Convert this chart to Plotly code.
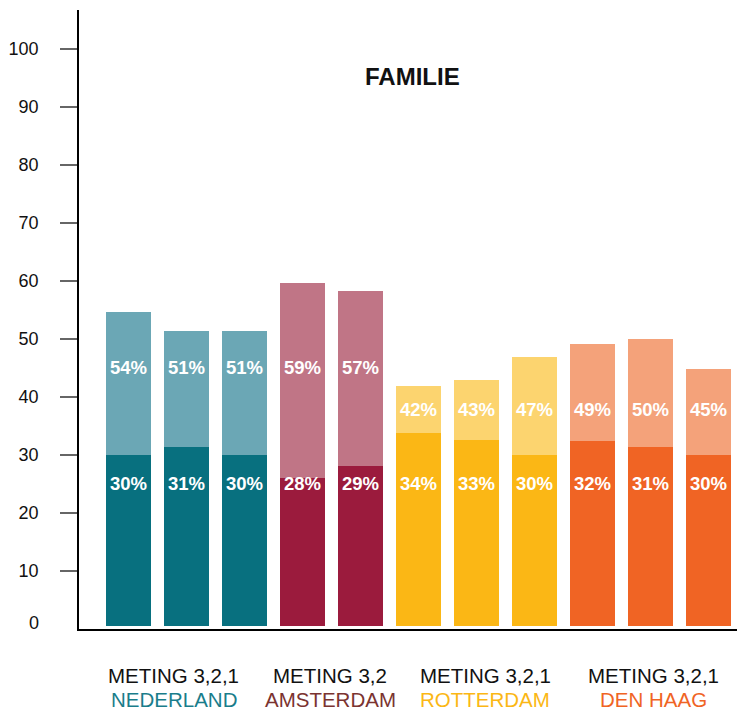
import plotly.graph_objects as go

# ---- data ----
groups = ["NEDERLAND", "AMSTERDAM", "ROTTERDAM", "DEN HAAG"]
group_meting = ["METING 3,2,1", "METING 3,2", "METING 3,2,1", "METING 3,2,1"]
group_sizes = [3, 2, 3, 3]
light_values = [54.7, 51.4, 51.4, 59.7, 58.3, 41.9, 43.0, 46.9, 49.2, 50.0, 44.9]
dark_values = [30.0, 31.4, 30.0, 26.0, 28.1, 33.8, 32.6, 30.0, 32.4, 31.4, 30.0]
light_labels = ["54%", "51%", "51%", "59%", "57%", "42%", "43%", "47%", "49%", "50%", "45%"]
dark_labels = ["30%", "31%", "30%", "28%", "29%", "34%", "33%", "30%", "32%", "31%", "30%"]
y_ticks = [10, 20, 30, 40, 50, 60, 70, 80, 90, 100]

# ---- style ----
dark_colors = ["#08707f", "#9b1b3d", "#fbb715", "#f06424"]
light_colors = ["#6ba7b5", "#c07586", "#fcd46f", "#f4a27a"]
group_text_colors = ["#1a7d8b", "#7b3330", "#fbb715", "#f06424"]
group_label_x = [0.776, 3.474, 6.147, 9.043]
light_label_y = [45.0, 45.0, 37.8, 37.8]
dark_label_y = 25.0
BAR_GAP = 0.55
FONT = "Liberation Sans, Arial, sans-serif"

xs, lc, dc, lly = [], [], [], []
i = 0
for g, n in enumerate(group_sizes):
    for _ in range(n):
        xs.append(i)
        lc.append(light_colors[g])
        dc.append(dark_colors[g])
        lly.append(light_label_y[g])
        i += 1

fig = go.Figure()
fig.add_trace(go.Bar(x=xs, y=[v - BAR_GAP for v in light_values], base=BAR_GAP,
                     marker=dict(color=lc, line=dict(width=0)), width=0.776,
                     hoverinfo="skip"))
fig.add_trace(go.Bar(x=xs, y=[v - BAR_GAP for v in dark_values], base=BAR_GAP,
                     marker=dict(color=dc, line=dict(width=0)), width=0.776,
                     hoverinfo="skip"))

ann = []
for x, t, y in zip(xs, light_labels, lly):
    ann.append(dict(x=x, y=y, xref="x", yref="y", text=t, showarrow=False,
                    font=dict(family=FONT, size=18.5, color="white", weight="bold")))
for x, t in zip(xs, dark_labels):
    ann.append(dict(x=x, y=dark_label_y, xref="x", yref="y", text=t, showarrow=False,
                    font=dict(family=FONT, size=18.5, color="white", weight="bold")))
for gx, m, g, c in zip(group_label_x, group_meting, groups, group_text_colors):
    ann.append(dict(x=gx, y=-0.0754, xref="x", yref="paper", text=m, showarrow=False,
                    yanchor="middle", font=dict(family=FONT, size=20.5, color="#111111")))
    ann.append(dict(x=gx, y=-0.114, xref="x", yref="paper", text=g, showarrow=False,
                    yanchor="middle", font=dict(family=FONT, size=20.5, color=c)))
# title
ann.append(dict(x=0.507, y=0.893, xref="paper", yref="paper", text="<b>FAMILIE</b>",
                showarrow=False, yanchor="middle",
                font=dict(family=FONT, size=24, color="#111111")))
# zero label (no tick mark at 0)
ann.append(dict(x=0, y=0.5, xref="paper", yref="y", xanchor="right", text="0",
                showarrow=False, xshift=-38, yshift=3,
                font=dict(family=FONT, size=18, color="#111111")))

fig.update_layout(
    width=737, height=710,
    margin=dict(l=79, r=0, t=10, b=81),
    paper_bgcolor="white", plot_bgcolor="white",
    barmode="overlay", showlegend=False, bargap=0,
    annotations=ann,
    xaxis=dict(range=[-0.853, 10.49], showticklabels=False, ticks="", showgrid=False,
               zeroline=False, showline=True, linecolor="black", linewidth=1.5,
               fixedrange=True),
    yaxis=dict(range=[0, 106.7], tickvals=y_ticks, ticks="outside", ticklen=17,
               tickwidth=1.5, tickcolor="#666666", showgrid=False, zeroline=False,
               showline=True, linecolor="black", linewidth=1.5, ticklabelstandoff=18,
               tickfont=dict(family=FONT, size=18, color="#111111"), fixedrange=True),
)

fig.write_html("out.html", config={"displayModeBar": False})

# remove default page margin so the figure sits at the window's top-left corner
with open("out.html", "r", encoding="utf-8") as f:
    html = f.read()
html = html.replace("<head>", "<head><style>html,body{margin:0;padding:0;overflow:hidden;}</style>", 1)
with open("out.html", "w", encoding="utf-8") as f:
    f.write(html)
